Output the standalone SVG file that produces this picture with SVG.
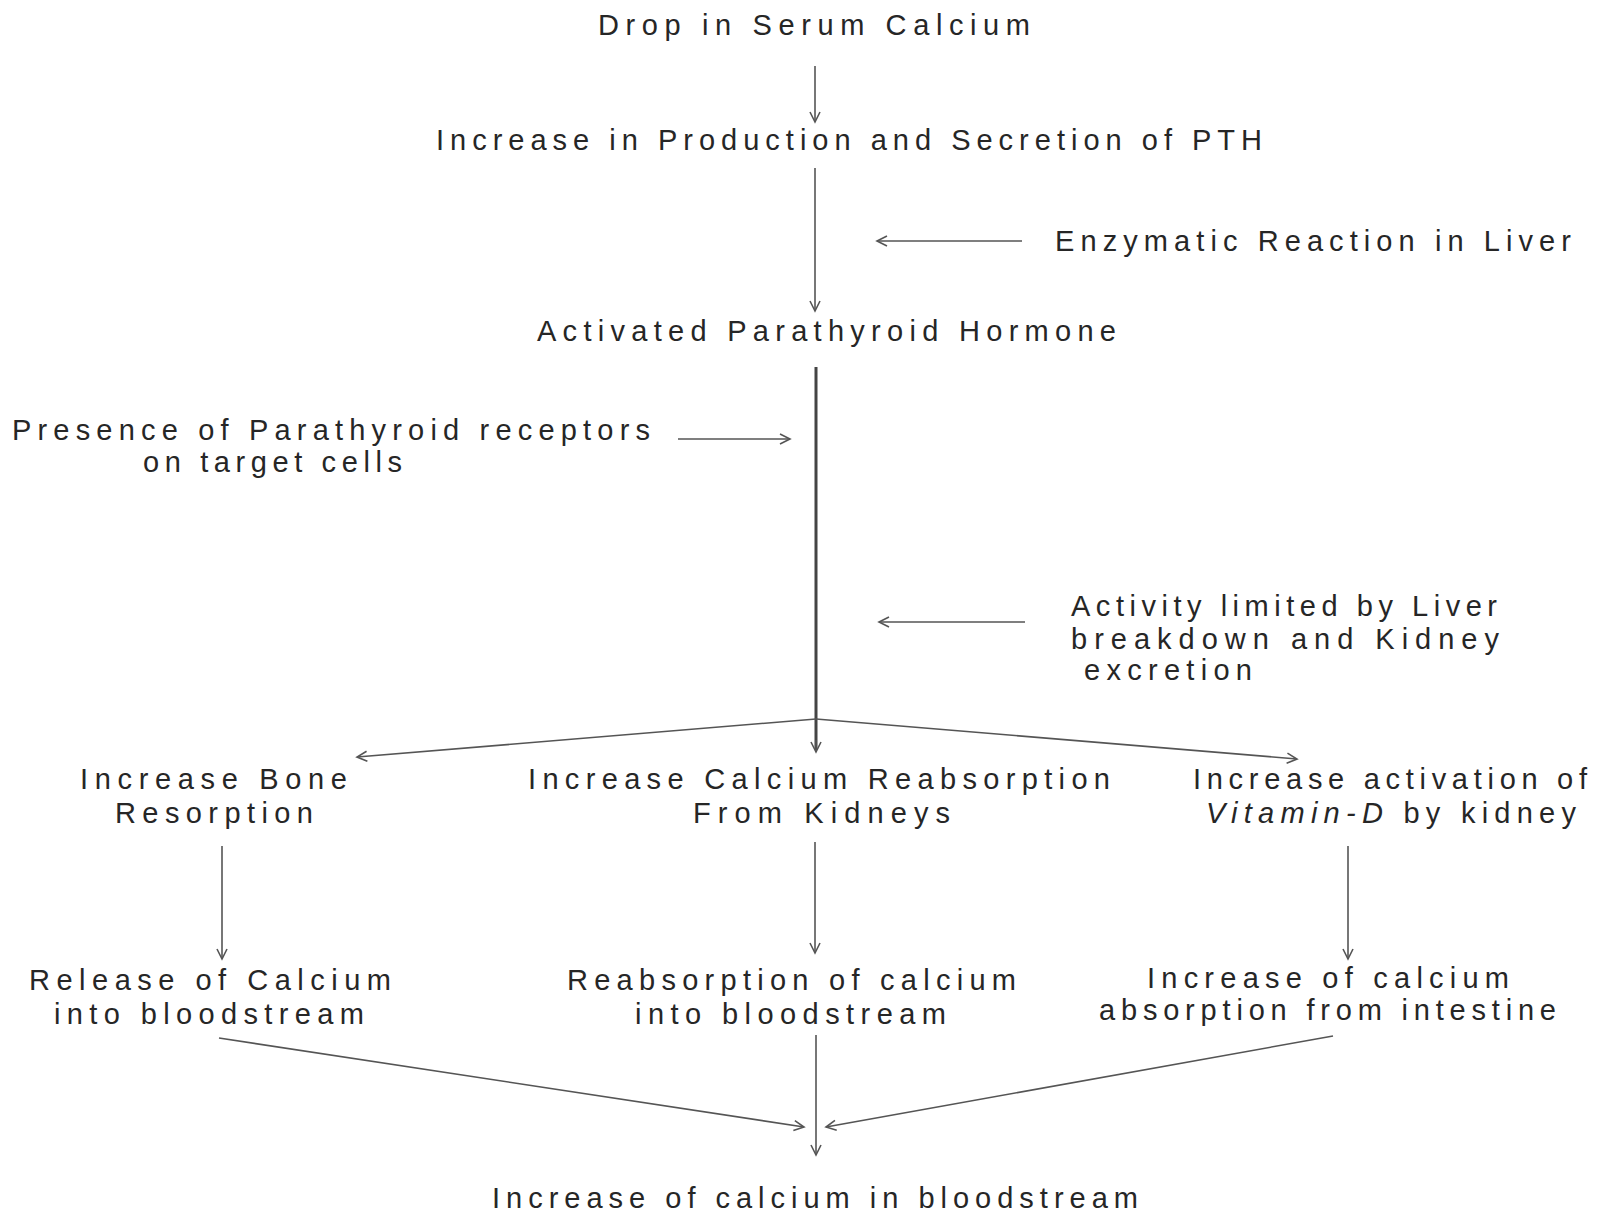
<svg xmlns="http://www.w3.org/2000/svg" width="1599" height="1215" viewBox="0 0 1599 1215">
<style>
text{font-family:"Liberation Sans",Arial,sans-serif;font-size:29px;fill:#262626}
.c{stroke:#555;stroke-width:1.6;fill:none}
.t{stroke:#444;stroke-width:3;fill:none}
</style>
<defs>
<marker id="ah" markerUnits="userSpaceOnUse" markerWidth="14" markerHeight="14" refX="11" refY="6" orient="auto">
<path d="M1,1 L11,6 L1,11" fill="none" stroke="#555" stroke-width="1.6"/>
</marker>
</defs>
<rect width="1599" height="1215" fill="#fff"/>
<g id="connectors">
<line class="c" x1="815" y1="66" x2="815" y2="122" marker-end="url(#ah)"/>
<line class="c" x1="815" y1="168" x2="815" y2="311" marker-end="url(#ah)"/>
<line class="c" x1="1022" y1="241" x2="877" y2="241" marker-end="url(#ah)"/>
<line class="t" x1="816" y1="367" x2="816" y2="750"/>
<line class="c" x1="816" y1="740" x2="816" y2="752" marker-end="url(#ah)"/>
<line class="c" x1="678" y1="439" x2="790" y2="439" marker-end="url(#ah)"/>
<line class="c" x1="1025" y1="622" x2="879" y2="622" marker-end="url(#ah)"/>
<line class="c" x1="816" y1="719" x2="357" y2="757" marker-end="url(#ah)"/>
<line class="c" x1="816" y1="719" x2="1297" y2="759" marker-end="url(#ah)"/>
<line class="c" x1="222" y1="846" x2="222" y2="959" marker-end="url(#ah)"/>
<line class="c" x1="815" y1="842" x2="815" y2="953" marker-end="url(#ah)"/>
<line class="c" x1="1348" y1="846" x2="1348" y2="959" marker-end="url(#ah)"/>
<line class="c" x1="219" y1="1038" x2="804" y2="1127" marker-end="url(#ah)"/>
<line class="c" x1="1333" y1="1036" x2="826" y2="1127" marker-end="url(#ah)"/>
<line class="c" x1="816" y1="1035" x2="816" y2="1155" marker-end="url(#ah)"/>
</g>
<g id="n1"><text x="598" y="35" textLength="432">Drop in Serum Calcium</text></g>
<g id="n2"><text x="436" y="150" textLength="826">Increase in Production and Secretion of PTH</text></g>
<g id="n3"><text x="1055" y="251" textLength="516">Enzymatic Reaction in Liver</text></g>
<g id="n4"><text x="537" y="341" textLength="579">Activated Parathyroid Hormone</text></g>
<g id="n5"><text x="12" y="440" textLength="638">Presence of Parathyroid receptors</text><text x="143" y="472" textLength="259">on target cells</text></g>
<g id="n6"><text x="1071" y="616" textLength="426">Activity limited by Liver</text><text x="1071" y="649" textLength="428">breakdown and Kidney</text><text x="1084" y="680" textLength="168">excretion</text></g>
<g id="n7"><text x="80" y="789" textLength="267">Increase Bone</text><text x="115" y="823" textLength="198">Resorption</text></g>
<g id="n8"><text x="528" y="789" textLength="582">Increase Calcium Reabsorption</text><text x="693" y="823" textLength="257">From Kidneys</text></g>
<g id="n9"><text x="1193" y="789" textLength="394">Increase activation of</text><text x="1206" y="823" textLength="370"><tspan font-style="italic">Vitamin-D</tspan> by kidney</text></g>
<g id="n10"><text x="29" y="990" textLength="362">Release of Calcium</text><text x="54" y="1024" textLength="310">into bloodstream</text></g>
<g id="n11"><text x="567" y="990" textLength="449">Reabsorption of calcium</text><text x="635" y="1024" textLength="311">into bloodstream</text></g>
<g id="n12"><text x="1147" y="988" textLength="362">Increase of calcium</text><text x="1099" y="1020" textLength="457">absorption from intestine</text></g>
<g id="n13"><text x="492" y="1208" textLength="646">Increase of calcium in bloodstream</text></g>
</svg>
